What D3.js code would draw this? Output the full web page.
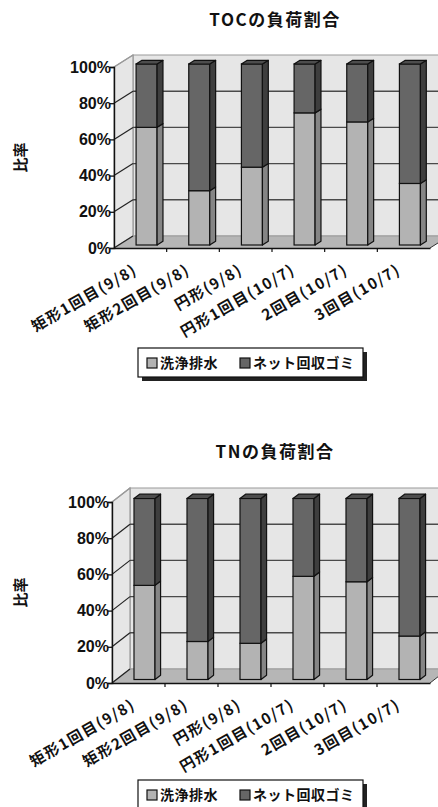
<!DOCTYPE html>
<html>
<head>
<meta charset="utf-8">
<script src="https://cdn.jsdelivr.net/npm/d3@7/dist/d3.min.js"></script>
<style>
  html, body { margin: 0; padding: 0; background: #fff; }
  svg { display: block; }
  text { font-family: "Noto Sans CJK JP", "Liberation Sans", sans-serif; fill: #111; }
</style>
</head>
<body>
<svg id="chart" width="438" height="807"></svg>
<script>
// Load ratios (%) per sampling run
const categories = ["矩形1回目(9/8)", "矩形2回目(9/8)", "円形(9/8)", "円形1回目(10/7)", "2回目(10/7)", "3回目(10/7)"];
const seriesNames = ["洗浄排水", "ネット回収ゴミ"];
const tocWash = [65, 30, 43, 73, 68, 34];
const tocNet  = [35, 70, 57, 27, 32, 66];
const tnWash  = [52, 21, 20, 57, 54, 24];
const tnNet   = [48, 79, 80, 43, 46, 76];
const yTicks = [0, 20, 40, 60, 80, 100];
const yTickLabels = ["0%", "20%", "40%", "60%", "80%", "100%"];

const colors = {
  wall: "#e6e6e6", floor: "#b6b6b6", wallEdge: "#9a9a9a", grid: "#4a4a4a",
  front: ["#b3b3b3", "#666666"],
  side:  ["#858585", "#3e3e3e"],
  top:   ["#9a9a9a", "#4d4d4d"]
};

const svg = d3.select("#chart");

function drawChart(opt) {
  const { title, wash, net, x0, x1, yBase, yTop, dx, dy, titleY, legendY } = opt;
  const g = svg.append("g");

  const rows = categories.map((c, i) => ({ cat: c, [seriesNames[0]]: wash[i], [seriesNames[1]]: net[i] }));
  const stacked = d3.stack().keys(seriesNames)(rows);

  const x = d3.scaleBand().domain(categories).range([x0, x1]).paddingInner(0).paddingOuter(0);
  const y = d3.scaleLinear().domain([0, 100]).range([yBase, yTop]);

  const line = d3.line();

  // back wall (extends past the right edge)
  g.append("path")
    .attr("d", line([[x0 + dx, y(100) + dy], [x1 + dx + 40, y(100) + dy], [x1 + dx + 40, y(0) + dy], [x0 + dx, y(0) + dy]]) + "Z")
    .attr("fill", colors.wall).attr("stroke", colors.wallEdge).attr("stroke-width", 1.2);
  // left wall
  g.append("path")
    .attr("d", line([[x0, y(0)], [x0, y(100)], [x0 + dx, y(100) + dy], [x0 + dx, y(0) + dy]]) + "Z")
    .attr("fill", colors.wall).attr("stroke", colors.wallEdge).attr("stroke-width", 1.2);

  // gridlines on back and left walls
  yTicks.filter(t => t > 0 && t < 100).forEach(t => {
    g.append("line")
      .attr("x1", x0 + dx).attr("x2", x1 + dx + 40)
      .attr("y1", y(t) + dy).attr("y2", y(t) + dy)
      .attr("stroke", colors.grid).attr("stroke-width", 1.4);
    g.append("line")
      .attr("x1", x0).attr("y1", y(t))
      .attr("x2", x0 + dx).attr("y2", y(t) + dy)
      .attr("stroke", "#222").attr("stroke-width", 1.2);
  });
  g.append("line")
    .attr("x1", x0).attr("y1", y(100)).attr("x2", x0 + dx).attr("y2", y(100) + dy)
    .attr("stroke", colors.wallEdge).attr("stroke-width", 1.2);

  // floor
  g.append("path")
    .attr("d", line([[x0, y(0)], [x1, y(0)], [x1 + dx, y(0) + dy], [x0 + dx, y(0) + dy]]) + "Z")
    .attr("fill", colors.floor).attr("stroke", "none");
  g.append("line")
    .attr("x1", x0 + dx).attr("x2", x1 + dx).attr("y1", y(0) + dy).attr("y2", y(0) + dy)
    .attr("stroke", colors.wallEdge).attr("stroke-width", 1);
  g.append("line")
    .attr("x1", x0).attr("y1", y(0)).attr("x2", x0 + dx).attr("y2", y(0) + dy)
    .attr("stroke", "#222").attr("stroke-width", 1.2);
  g.append("line")
    .attr("x1", x1).attr("y1", y(0)).attr("x2", x1 + dx).attr("y2", y(0) + dy)
    .attr("stroke", "#333").attr("stroke-width", 1);

  // 3D bars
  const f1 = 0.25, f2 = 0.56;
  const barW = 21;
  const sdx = (f2 - f1) * dx, sdy = (f2 - f1) * dy;
  const bx = c => x(c) + x.bandwidth() / 2 - barW / 2 + f1 * dx + 1.5;
  const by = v => y(v) + f1 * dy;

  stacked.forEach((layer, si) => {
    const bars = g.append("g");
    layer.forEach((d, i) => {
      const c = categories[i];
      const xl = bx(c), xr = xl + barW;
      const yt = by(d[1]), yb = by(d[0]);
      bars.append("rect")
        .attr("x", xl).attr("y", yt).attr("width", barW).attr("height", yb - yt)
        .attr("fill", colors.front[si]).attr("stroke", "#111").attr("stroke-width", 1.2);
      bars.append("path")
        .attr("d", line([[xr, yt], [xr + sdx, yt + sdy], [xr + sdx, yb + sdy], [xr, yb]]) + "Z")
        .attr("fill", colors.side[si]).attr("stroke", "#111").attr("stroke-width", 1.2)
        .attr("stroke-linejoin", "round");
      if (si === stacked.length - 1) {
        bars.append("path")
          .attr("d", line([[xl, yt], [xl + sdx, yt + sdy], [xr + sdx, yt + sdy], [xr, yt]]) + "Z")
          .attr("fill", colors.top[si]).attr("stroke", "#111").attr("stroke-width", 1.2)
          .attr("stroke-linejoin", "round");
      }
    });
  });

  // front value axis
  const yAxis = d3.axisLeft(y).tickValues(yTicks).tickSize(4).tickFormat((d, i) => yTickLabels[i]);
  const ya = g.append("g").attr("transform", `translate(${x0},0)`).call(yAxis);
  ya.select(".domain").attr("stroke", "#111").attr("stroke-width", 1.4);
  ya.selectAll(".tick line").attr("stroke", "#111").attr("stroke-width", 1.3);
  ya.selectAll(".tick text")
    .attr("x", -3)
    .style("font-family", "'Liberation Sans', Arial, sans-serif")
    .style("font-weight", "bold").style("font-size", "16px").attr("fill", "#111");

  // front category axis
  const xAxis = d3.axisBottom(x).tickSize(0).tickFormat("");
  const xa = g.append("g").attr("transform", `translate(0,${y(0)})`).call(xAxis);
  xa.select(".domain").attr("stroke", "#111").attr("stroke-width", 1.3);
  categories.slice(1).forEach(c => {
    g.append("line").attr("x1", x(c)).attr("x2", x(c))
      .attr("y1", y(0)).attr("y2", y(0) + 4)
      .attr("stroke", "#111").attr("stroke-width", 1.2);
  });

  // rotated category labels
  categories.forEach(c => {
    const cx = x(c) + x.bandwidth() / 2 - 2;
    const cy = y(0) + 25;
    g.append("text")
      .attr("transform", `translate(${cx},${cy}) rotate(-30)`)
      .attr("text-anchor", "end")
      .style("font-size", "15px").style("font-weight", "bold")
      .style("letter-spacing", "1.5px")
      .text(c);
  });

  // title
  g.append("text")
    .attr("x", 275).attr("y", titleY)
    .attr("text-anchor", "middle")
    .style("font-size", "17px").style("font-weight", "bold").style("letter-spacing", "1.5px")
    .text(title);

  // axis title
  g.append("text")
    .attr("transform", `translate(26,${(y(0) + y(100)) / 2}) rotate(-90)`)
    .attr("text-anchor", "middle")
    .style("font-size", "15px").style("font-weight", "bold")
    .text("比率");

  // legend
  const lg = g.append("g").attr("transform", `translate(138,${legendY})`);
  lg.append("rect").attr("x", 4).attr("y", 4).attr("width", 225).attr("height", 29).attr("fill", "#222");
  lg.append("rect").attr("x", 0).attr("y", 0).attr("width", 225).attr("height", 29)
    .attr("fill", "#fff").attr("stroke", "#111").attr("stroke-width", 1.2);
  const items = [{ name: seriesNames[0], sx: 9, tx: 22 }, { name: seriesNames[1], sx: 102, tx: 115 }];
  items.forEach((it, i) => {
    lg.append("rect").attr("x", it.sx).attr("y", 10).attr("width", 10).attr("height", 10)
      .attr("fill", colors.front[i]).attr("stroke", "#111").attr("stroke-width", 1.2);
    lg.append("text").attr("x", it.tx).attr("y", 20)
      .style("font-size", "14px").style("font-weight", "bold").style("letter-spacing", "0.5px")
      .text(it.name);
  });
}

drawChart({ title: "TOCの負荷割合", wash: tocWash, net: tocNet,
  x0: 114, x1: 430, yBase: 248, yTop: 67, dx: 19, dy: -12, titleY: 26, legendY: 348 });
drawChart({ title: "TNの負荷割合", wash: tnWash, net: tnNet,
  x0: 112, x1: 430, yBase: 683, yTop: 502, dx: 18, dy: -14, titleY: 458, legendY: 780 });
</script>
</body>
</html>
